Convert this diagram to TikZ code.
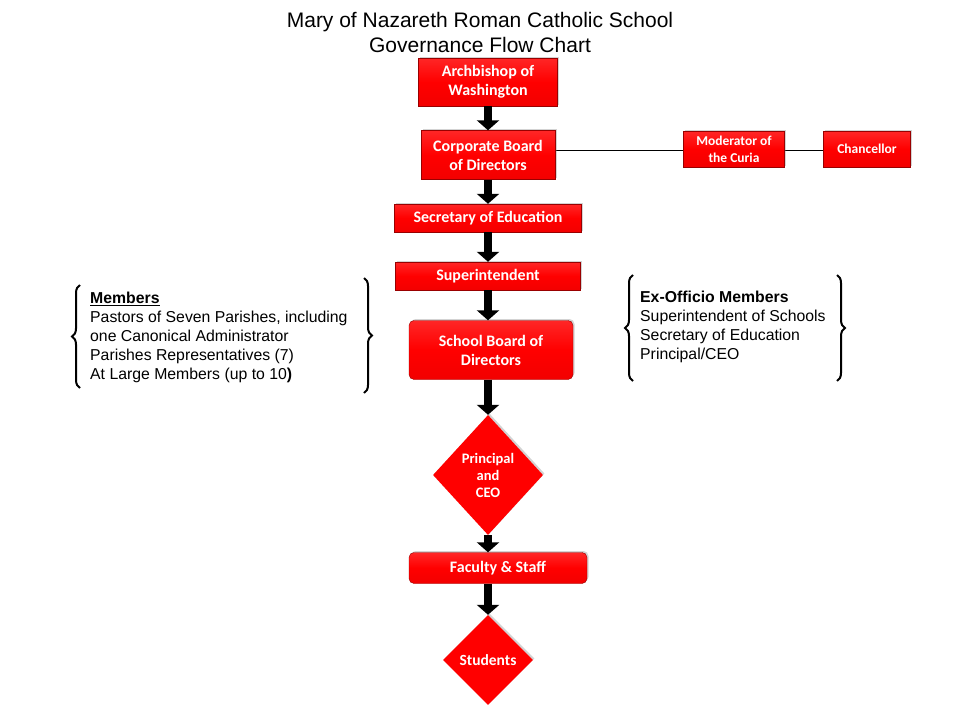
\documentclass[tikz,border=0pt]{standalone}
\usepackage{fontspec}
\setmainfont{Liberation Sans}
\newfontfamily\boxfont{Carlito}
\usetikzlibrary{shapes.geometric,arrows.meta,shadows,decorations.pathreplacing}
\begin{document}
\begin{tikzpicture}[x=1pt,y=-1pt,
 box/.style={draw=red!60!black,line width=0.4pt,top color=red!85,bottom color=red!95!black,middle color=red,
   text=white,font=\boxfont\bfseries\fontsize{16}{19}\selectfont,align=center,inner sep=0pt,
   drop shadow={shadow xshift=1.5pt,shadow yshift=1.5pt,opacity=0.35}},
 dia/.style={diamond,fill=red,text=white,font=\boxfont\bfseries\fontsize{14.5}{17}\selectfont,align=center,inner sep=0pt,
   drop shadow={shadow xshift=1.5pt,shadow yshift=1.5pt,opacity=0.35}},
 arr/.style={line width=8pt,-{Triangle[width=22pt,length=10pt]},black},
 brc/.style={decorate,decoration={brace,amplitude=8pt},line width=2pt},
 txt/.style={font=\fontsize{15.8}{19}\selectfont,align=left,anchor=north west,inner sep=0pt}]
\useasboundingbox (0,0) rectangle (960,720);
\node[font=\fontsize{21}{25}\selectfont,align=center] (title) at (480,32) {Mary of Nazareth Roman Catholic School\\Governance Flow Chart};
\draw[line width=0.8pt] (556,150) coordinate (ce) -- (824,150) coordinate (chw);
\node[box,minimum width=139pt,minimum height=48pt] (arch) at (488,82) {Archbishop of\\Washington};
\node[box,minimum width=134pt,minimum height=49pt] (corp) at (488,155) {Corporate Board\\of Directors};
\node[box,minimum width=101pt,minimum height=36pt,font=\boxfont\bfseries\fontsize{13.5}{17}\selectfont] (mod) at (734,149) {Moderator of\\the Curia};
\node[box,minimum width=87pt,minimum height=36pt,font=\boxfont\bfseries\fontsize{13.5}{17}\selectfont] (chan) at (867,149) {Chancellor};
\node[box,minimum width=187pt,minimum height=28pt] (sec) at (488,218) {Secretary of Education};
\node[box,minimum width=185pt,minimum height=28pt] (sup) at (488,276) {Superintendent};
\node[box,rounded corners=5pt,minimum width=164pt,minimum height=59pt] (sb) at (491,350) {School Board of\\Directors};
\node[dia,minimum width=110pt,minimum height=120pt] (prin) at (488,475) {Principal\\and\\CEO};
\node[box,rounded corners=5pt,minimum width=178pt,minimum height=31pt] (fac) at (498,568) {Faculty \& Staff};
\node[dia,minimum width=90pt,minimum height=90pt,font=\boxfont\bfseries\fontsize{15.5}{18}\selectfont] (stu) at (488,660) {Students};
\draw[arr] (arch.south) -- (corp.north);
\draw[arr] (corp.south) -- (sec.north);
\draw[arr] (sec.south) -- (sup.north);
\draw[arr] (sup.south) -- (sup.south|-sb.north);
\draw[arr] (sup.south|-sb.south) -- (prin.north);
\draw[arr] (prin.south) -- (prin.south|-fac.north);
\draw[arr] (prin.south|-fac.south) -- (stu.north);
\node[txt] (mem) at (90,292) {\textbf{\underline{Members}}\\Pastors of Seven Parishes, including\\one Canonical Administrator\\Parishes Representatives (7)\\At Large Members (up to 10\textbf{)}};
\node[txt] (ex) at (640,291) {\textbf{Ex-Officio Members}\\Superintendent of Schools\\Secretary of Education\\Principal/CEO};
\draw[brc] (80,388) -- (80,285) coordinate (lb);
\draw[brc] (364,278) -- (364,393) coordinate (rb);
\draw[brc] (633,381) -- (633,275) coordinate (lb2);
\draw[brc] (837,275) -- (837,381) coordinate (rb2);
\end{tikzpicture}
\end{document}
